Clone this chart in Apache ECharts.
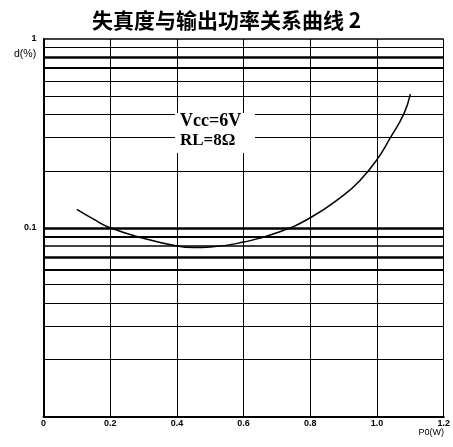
<!DOCTYPE html>
<html>
<head>
<meta charset="utf-8">
<script src="https://cdn.jsdelivr.net/npm/echarts@6/dist/echarts.min.js"></script>
<style>
  html, body { margin: 0; padding: 0; background: #fff; }
  #chart { width: 453px; height: 447px; }
</style>
</head>
<body>
<div id="chart"></div>
<script>
// 输出功率 P0 (W) 与失真度 d (%)
let powerW = [0.10, 0.15, 0.20, 0.30, 0.40, 0.45, 0.50, 0.60, 0.70, 0.80, 0.90, 0.95, 1.00, 1.04, 1.08, 1.10];
let distortion = [0.125, 0.111, 0.100, 0.088, 0.080, 0.0785, 0.079, 0.084, 0.094, 0.113, 0.149, 0.179, 0.23, 0.30, 0.40, 0.51];

// 对数网格线
let gridValues = [0.02, 0.03, 0.04, 0.05, 0.06, 0.07, 0.08, 0.09, 0.1,
                  0.2, 0.3, 0.4, 0.5, 0.6, 0.7, 0.8, 0.9, 1];
let boldLines = { 0.1: 2.5, 0.09: 2, 0.08: 1.5, 0.07: 2.5, 0.06: 2, 0.8: 2.5, 0.7: 2, 1: 1.5 };
let yLabels = [1, 0.1];

let chart = echarts.init(document.getElementById('chart'));

const option = {
    backgroundColor: '#fff',
    animation: false,
    title: {
        text: '失真度与输出功率关系曲线 2',
        left: 'center',
        top: 5,
        textStyle: {
            fontFamily: 'Noto Sans CJK SC',
            fontSize: 21,
            fontWeight: 'bold',
            color: '#000'
        }
    },
    grid: {
        left: 43.5,
        right: 9,
        top: 39,
        bottom: 30.5
    },
    xAxis: {
        type: 'value',
        min: 0,
        max: 1.2,
        interval: 0.2,
        axisLine: { lineStyle: { color: '#000', width: 2 } },
        axisTick: { show: false },
        splitLine: { show: true, lineStyle: { color: '#000', width: 1 } },
        axisLabel: {
            color: '#000',
            fontFamily: 'Liberation Sans',
            fontSize: 9,
            fontWeight: 'bold',
            margin: 3,
            formatter: function (v) {
                return v === 0 ? '0' : v.toFixed(1);
            }
        }
    },
    yAxis: {
        type: 'log',
        logBase: 10,
        min: 0.01,
        max: 1,
        axisLine: { show: true, lineStyle: { color: '#000', width: 2 } },
        axisTick: { show: false },
        splitLine: { show: false },
        axisLabel: {
            color: '#000',
            fontFamily: 'Liberation Sans',
            fontSize: 9,
            fontWeight: 'bold',
            margin: 7,
            formatter: function (v) {
                let hit = yLabels.find(function (l) { return Math.abs(l - v) < 1e-9; });
                return hit !== undefined ? String(hit) : '';
            }
        }
    },
    series: [
        {
            name: '失真度',
            type: 'line',
            smooth: true,
            symbol: 'none',
            lineStyle: { color: '#000', width: 1.5 },
            data: powerW.map(function (p, i) { return [p, distortion[i]]; }),
            markLine: {
                silent: true,
                symbol: 'none',
                label: { show: false },
                data: gridValues.map(function (v) {
                    return {
                        yAxis: v,
                        lineStyle: { color: '#000', type: 'solid', width: boldLines[v] || 1 }
                    };
                })
            }
        }
    ],
    graphic: [
        {
            type: 'text',
            left: 14,
            top: 49,
            style: {
                text: 'd(%)',
                fontFamily: 'Liberation Sans',
                fontSize: 10.5,
                fill: '#000'
            }
        },
        {
            type: 'text',
            right: 9,
            top: 428,
            style: {
                text: 'P0(W)',
                fontFamily: 'Liberation Sans',
                fontSize: 9,
                fill: '#000'
            }
        },
        {
            type: 'rect',
            left: 175,
            top: 113,
            z: 100,
            shape: { width: 80, height: 40 },
            style: { fill: '#fff' }
        },
        {
            type: 'text',
            left: 180,
            top: 112,
            z: 101,
            style: {
                text: 'Vcc=6V',
                fontFamily: 'Liberation Serif',
                fontSize: 18,
                fontWeight: 'bold',
                fill: '#000'
            }
        },
        {
            type: 'text',
            left: 180,
            top: 132,
            z: 101,
            style: {
                text: 'RL=8Ω',
                fontFamily: 'Liberation Serif',
                fontSize: 17,
                fontWeight: 'bold',
                fill: '#000'
            }
        }
    ]
};
chart.setOption(option);
</script>
</body>
</html>
